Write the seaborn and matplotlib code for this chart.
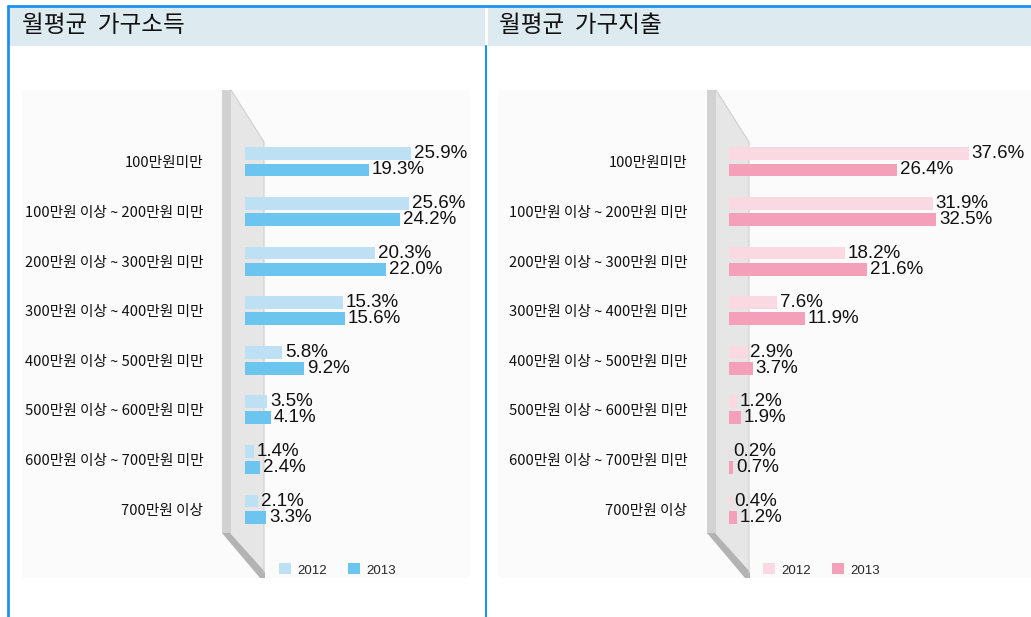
import numpy as np
import pandas as pd
import matplotlib
matplotlib.use("Agg")
import matplotlib.pyplot as plt
from matplotlib.patches import Polygon, Rectangle
import seaborn as sns

# data
categories = ["100만원미만", "100만원 이상 ~ 200만원 미만", "200만원 이상 ~ 300만원 미만",
              "300만원 이상 ~ 400만원 미만", "400만원 이상 ~ 500만원 미만",
              "500만원 이상 ~ 600만원 미만", "600만원 이상 ~ 700만원 미만", "700만원 이상"]
years = ["2012", "2013"]
income_2012 = [25.9, 25.6, 20.3, 15.3, 5.8, 3.5, 1.4, 2.1]
income_2013 = [19.3, 24.2, 22.0, 15.6, 9.2, 4.1, 2.4, 3.3]
spend_2012 = [37.6, 31.9, 18.2, 7.6, 2.9, 1.2, 0.2, 0.4]
spend_2013 = [26.4, 32.5, 21.6, 11.9, 3.7, 1.9, 0.7, 1.2]
titles = ["월평균  가구소득", "월평균  가구지출"]

W, H = 1031, 617
KR = ["Noto Sans CJK KR", "DejaVu Sans"]
NUM = ["Liberation Sans", "DejaVu Sans"]

sns.set_style("white")
plt.rcParams["font.family"] = KR

fig = plt.figure(figsize=(W / 100, H / 100), dpi=100)

# background layer in pixel coordinates
bg = fig.add_axes([0, 0, 1, 1], zorder=0)
bg.set_xlim(0, W)
bg.set_ylim(H, 0)
bg.axis("off")

blue = "#1e8ff0"
bg.add_patch(Rectangle((8, 7), W - 8, 39, color="#ddebf1", lw=0))
bg.plot([485.5, 485.5], [7, 46], color="white", lw=2)
bg.plot([8, W], [6, 6], color=blue, lw=2)
bg.plot([8, 8], [6, H], color=blue, lw=2)
bg.plot([485.5, 485.5], [46, H], color=blue, lw=1.5)


def wall(x0):
    # the grey 3d wall behind the bars
    bg.add_patch(Polygon([(x0 + 9, 90), (x0 + 42, 142), (x0 + 42, 573),
                          (x0 + 9, 534)], color="#e6e6e6", lw=0))
    bg.plot([x0 + 9, x0 + 42, x0 + 42], [90, 142, 573], color="#cfcfcf", lw=0.8)
    bg.add_patch(Rectangle((x0, 90), 9, 444, color="#d2d2d2", lw=0))
    bg.add_patch(Polygon([(x0, 533), (x0 + 8, 533), (x0 + 43, 572), (x0 + 43, 578),
                          (x0 + 38, 578)], color="#b3b3b3", lw=0))


panels = [
    dict(bg=(22, 470), wall=222, ax=(245, 470), xmax=225 / 6.41, title_x=22,
         values=(income_2012, income_2013), colors=["#bde0f5", "#6cc5ee"],
         leg_x=(279 - 245) / 225),
    dict(bg=(498, W), wall=707, ax=(729, W), xmax=302 / 6.38, title_x=499,
         values=(spend_2012, spend_2013), colors=["#fbd9e3", "#f4a0bb"],
         leg_x=(763 - 729) / 302),
]

for title, p in zip(titles, panels):
    bg.add_patch(Rectangle((p["bg"][0], 90), p["bg"][1] - p["bg"][0], 488,
                           color="#fbfbfb", lw=0))
    wall(p["wall"])
    fig.text(p["title_x"] / W, 1 - 26 / H, title, fontsize=17, va="center",
             family=KR, color="#111111")

    df = pd.DataFrame({
        "category": categories * 2,
        "year": [years[0]] * len(categories) + [years[1]] * len(categories),
        "value": list(p["values"][0]) + list(p["values"][1]),
    })

    x0, x1 = p["ax"]
    ax = fig.add_axes([x0 / W, (H - 578) / H, (x1 - x0) / W, 488 / H], zorder=1)
    ax.set_facecolor("none")
    sns.barplot(data=df, y="category", x="value", hue="year", orient="h",
                palette=p["colors"], width=0.65, gap=0.2, ax=ax, saturation=1,
                linewidth=0)
    ax.set_xlim(0, p["xmax"])
    ax.set_ylim(8.39, -1.45)
    for c in ax.containers:
        ax.bar_label(c, fmt="{:.1f}%", padding=2, fontsize=13.5, family=NUM,
                     color="#111111")
    for s in ax.spines.values():
        s.set_visible(False)
    ax.set_xticks([])
    ax.set_xlabel("")
    ax.set_ylabel("")
    ax.tick_params(axis="y", length=0, pad=30)
    for t in ax.get_yticklabels():
        t.set_fontsize(10.6)
        t.set_color("#111111")

    handles, labels = ax.get_legend_handles_labels()
    ax.legend(handles, labels, loc="center left",
              bbox_to_anchor=(p["leg_x"], 8 / 488),
              ncol=2, frameon=False, borderpad=0, borderaxespad=0,
              handlelength=0.9, handleheight=0.9, handletextpad=0.5,
              columnspacing=1.6, prop={"family": NUM, "size": 9.5})

fig.savefig("out.png", dpi=100)
